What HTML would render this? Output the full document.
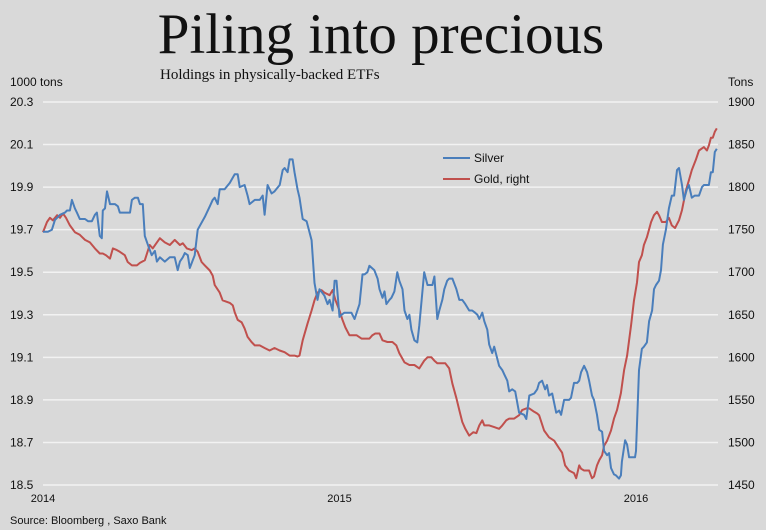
<!DOCTYPE html>
<html><head><meta charset="utf-8"><style>
html,body{margin:0;padding:0;background:#d9d9d9;}
svg{display:block;font-family:"Liberation Sans",sans-serif;}
</style></head><body>
<svg id="chart" width="766" height="530" viewBox="0 0 766 530" xmlns="http://www.w3.org/2000/svg">
<rect x="0" y="0" width="766" height="530" fill="#d9d9d9"/>
<text x="381" y="53" text-anchor="middle" font-family="Liberation Serif, serif" font-size="57" fill="#111">Piling into precious</text>
<text x="160" y="79" font-family="Liberation Serif, serif" font-size="15" fill="#111">Holdings in physically-backed ETFs</text>
<text x="10" y="86" font-size="12" fill="#111">1000 tons</text>
<text x="728" y="86" font-size="12" fill="#111">Tons</text>
<g id="grid"></g>
<g id="yl"></g>
<g id="yr"></g>
<g id="xa"></g>
<g id="series"></g>
<g>
<g><line x1="443" y1="158" x2="470" y2="158" stroke="#4a7ebb" stroke-width="2"/><text x="474" y="162" font-size="12" fill="#111">Silver</text></g>
<g><line x1="443" y1="179" x2="470" y2="179" stroke="#c0504d" stroke-width="2"/><text x="474" y="183" font-size="12" fill="#111">Gold, right</text></g>
</g>
<text x="10" y="524" font-size="11" fill="#111">Source: Bloomberg , Saxo Bank</text>
</svg>
<script>
const leftTicks=[20.3,20.1,19.9,19.7,19.5,19.3,19.1,18.9,18.7,18.5];
const rightTicks=[1900,1850,1800,1750,1700,1650,1600,1550,1500,1450];
const xTickLabels=["2014","2015","2016"];
const xTickMonths=[0,12,24];
const silverMonths=[0,0.2,0.36,0.48,0.69,0.89,0.97,1.09,1.17,1.29,1.37,1.49,1.70,1.82,1.98,2.10,2.18,2.30,2.38,2.42,2.51,2.59,2.71,2.91,3.03,3.11,3.31,3.52,3.60,3.72,3.84,3.92,4.04,4.12,4.24,4.40,4.53,4.61,4.73,4.93,5.13,5.33,5.45,5.54,5.66,5.74,5.86,5.94,6.14,6.26,6.55,6.75,6.87,6.95,7.07,7.15,7.35,7.56,7.76,7.88,7.96,8.16,8.28,8.36,8.57,8.77,8.89,8.97,9.09,9.25,9.37,9.58,9.70,9.78,9.90,9.98,10.10,10.18,10.30,10.38,10.51,10.67,10.87,10.99,11.11,11.19,11.39,11.52,11.60,11.72,11.80,11.88,12.00,12.08,12.20,12.32,12.48,12.61,12.81,12.93,13.01,13.13,13.21,13.41,13.54,13.62,13.74,13.82,13.90,14.02,14.10,14.22,14.34,14.42,14.55,14.63,14.75,14.83,14.91,15.03,15.15,15.23,15.43,15.56,15.64,15.76,15.84,15.96,16.04,16.16,16.24,16.36,16.44,16.57,16.73,16.85,16.97,17.09,17.25,17.37,17.49,17.58,17.66,17.78,17.86,17.98,18.06,18.18,18.26,18.46,18.59,18.67,18.79,18.87,18.99,19.11,19.27,19.47,19.56,19.68,19.88,20.00,20.08,20.20,20.32,20.40,20.48,20.61,20.77,20.89,20.97,21.09,21.29,21.37,21.49,21.62,21.70,21.78,21.90,22.02,22.10,22.22,22.30,22.42,22.51,22.63,22.71,22.83,22.91,22.99,23.11,23.19,23.31,23.39,23.43,23.56,23.64,23.72,23.84,23.96,24.00,24.12,24.24,24.32,24.44,24.53,24.65,24.73,24.81,24.93,25.01,25.09,25.21,25.33,25.45,25.54,25.66,25.74,25.86,25.94,26.06,26.14,26.26,26.38,26.55,26.67,26.75,26.95,27.03,27.11,27.19,27.27];
const silverValues=[19.69,19.69,19.70,19.745,19.77,19.78,19.79,19.79,19.84,19.80,19.78,19.75,19.75,19.74,19.74,19.77,19.78,19.67,19.66,19.79,19.80,19.88,19.82,19.82,19.81,19.78,19.78,19.78,19.84,19.85,19.85,19.82,19.82,19.67,19.63,19.58,19.60,19.55,19.57,19.55,19.57,19.57,19.51,19.55,19.57,19.59,19.58,19.52,19.58,19.70,19.76,19.81,19.84,19.85,19.82,19.89,19.89,19.92,19.96,19.96,19.90,19.91,19.86,19.82,19.84,19.84,19.86,19.77,19.91,19.87,19.88,19.91,19.98,19.99,19.97,20.03,20.03,19.97,19.89,19.85,19.75,19.74,19.65,19.45,19.37,19.42,19.39,19.35,19.37,19.32,19.46,19.46,19.29,19.30,19.31,19.31,19.31,19.28,19.35,19.49,19.49,19.50,19.53,19.51,19.47,19.42,19.38,19.41,19.35,19.37,19.38,19.41,19.50,19.46,19.42,19.32,19.28,19.30,19.23,19.18,19.17,19.25,19.50,19.44,19.44,19.44,19.48,19.28,19.32,19.37,19.42,19.46,19.47,19.47,19.42,19.37,19.37,19.35,19.32,19.32,19.31,19.30,19.28,19.31,19.27,19.23,19.16,19.12,19.15,19.06,19.04,19.02,18.99,18.94,18.95,18.94,18.84,18.83,18.81,18.92,18.93,18.95,18.98,18.99,18.95,18.97,18.92,18.93,18.84,18.85,18.83,18.90,18.90,18.91,18.98,18.98,18.99,19.03,19.06,19.03,18.99,18.92,18.90,18.83,18.76,18.75,18.66,18.64,18.65,18.58,18.55,18.545,18.53,18.545,18.61,18.71,18.69,18.63,18.63,18.63,18.66,19.04,19.14,19.15,19.17,19.27,19.32,19.42,19.44,19.46,19.51,19.63,19.70,19.80,19.86,19.86,19.98,19.99,19.91,19.84,19.89,19.91,19.85,19.86,19.86,19.90,19.91,19.91,19.97,19.97,20.065,20.08];
const goldMonths=[0,0.16,0.28,0.40,0.57,0.69,0.81,0.93,1.09,1.29,1.49,1.70,1.90,2.10,2.30,2.42,2.55,2.71,2.83,2.99,3.11,3.31,3.43,3.60,3.80,3.92,4.12,4.32,4.44,4.61,4.73,4.93,5.13,5.33,5.54,5.66,5.82,6.02,6.14,6.26,6.42,6.55,6.75,6.87,6.95,7.15,7.27,7.56,7.68,7.76,7.88,8.04,8.16,8.28,8.44,8.57,8.77,8.97,9.17,9.37,9.58,9.78,9.98,10.18,10.30,10.38,10.51,10.71,10.87,10.99,11.11,11.27,11.39,11.60,11.72,11.84,12.00,12.12,12.24,12.40,12.53,12.69,12.89,13.05,13.21,13.33,13.45,13.62,13.74,13.94,14.14,14.30,14.42,14.63,14.83,15.03,15.23,15.43,15.56,15.72,15.84,15.96,16.12,16.28,16.44,16.57,16.73,16.85,16.97,17.09,17.25,17.41,17.54,17.66,17.78,17.86,18.06,18.26,18.46,18.59,18.75,18.87,19.07,19.27,19.39,19.56,19.68,19.88,20.00,20.08,20.28,20.48,20.69,20.89,21.01,21.13,21.29,21.49,21.58,21.70,21.78,21.90,22.10,22.22,22.30,22.42,22.51,22.63,22.71,22.83,22.99,23.11,23.23,23.39,23.52,23.64,23.72,23.80,23.92,24.04,24.12,24.24,24.32,24.44,24.61,24.73,24.85,24.93,25.05,25.21,25.33,25.45,25.58,25.74,25.86,26.02,26.14,26.26,26.42,26.55,26.75,26.87,26.95,27.03,27.11,27.19,27.27];
const goldValues=[1747,1759,1764,1761,1767,1764,1769,1764,1755,1747,1744,1738,1735,1728,1722,1722,1720,1716,1728,1726,1724,1720,1712,1708,1708,1711,1714,1732,1728,1735,1740,1735,1732,1738,1732,1734,1728,1726,1728,1724,1712,1708,1702,1696,1685,1676,1667,1664,1661,1653,1644,1641,1634,1624,1618,1614,1614,1611,1608,1611,1608,1606,1602,1602,1601,1602,1620,1640,1655,1667,1676,1679,1676,1673,1679,1667,1655,1644,1635,1626,1626,1626,1622,1622,1622,1626,1628,1628,1620,1618,1618,1614,1605,1594,1591,1591,1587,1596,1600,1600,1596,1593,1593,1593,1587,1569,1552,1538,1524,1516,1508,1512,1511,1520,1526,1520,1520,1518,1516,1520,1526,1528,1528,1532,1538,1540,1540,1536,1534,1532,1514,1506,1502,1493,1488,1473,1467,1464,1458,1473,1469,1467,1467,1458,1460,1473,1479,1485,1496,1502,1514,1528,1538,1558,1585,1602,1620,1638,1667,1688,1712,1720,1732,1741,1759,1767,1771,1767,1759,1759,1764,1755,1752,1761,1773,1796,1808,1820,1832,1843,1847,1843,1849,1858,1858,1865,1869];

const NS="http://www.w3.org/2000/svg";
const X0=43,X1=718,Y0=102,Y1=485;
function xScale(m){return X0+m*(636-43)/24;}
function yLeft(v){return Y0+(20.3-v)*(Y1-Y0)/1.8;}
function yRight(v){return Y0+(1900-v)*(Y1-Y0)/450;}
function mk(tag,attrs,parent){const e=document.createElementNS(NS,tag);for(const k in attrs)e.setAttribute(k,attrs[k]);parent.appendChild(e);return e;}
const grid=document.getElementById('grid'),yl=document.getElementById('yl'),yr=document.getElementById('yr'),xa=document.getElementById('xa'),ser=document.getElementById('series');
leftTicks.forEach((t,i)=>{
  const y=yLeft(t);
  const g=mk('line',{x1:X0,x2:X1,y1:y,y2:y,stroke:'#f2f2f2','stroke-width':1.5},grid);
  
  
  const lt=mk('text',{x:10,y:y+4,'font-size':12,fill:'#111'},yl);lt.textContent=t.toFixed(1);
  
  
});
rightTicks.forEach(t=>{
  const y=yRight(t);
  const rt=mk('text',{x:728,y:y+4,'font-size':12,fill:'#111'},yr);rt.textContent=t;
  
  
});
xTickLabels.forEach((l,i)=>{
  const x=xScale(xTickMonths[i]);
  const xt=mk('text',{x:x,y:502,'font-size':11,fill:'#111','text-anchor':'middle'},xa);xt.textContent=l;
  
  
});
function path(ms,vs,ys){return ms.map((m,i)=>(i?'L':'M')+xScale(m).toFixed(1)+','+ys(vs[i]).toFixed(1)).join('');}
const gp=mk('path',{d:path(goldMonths,goldValues,yRight),fill:'none',stroke:'#c0504d','stroke-width':2,'stroke-linejoin':'round'},ser);


const sp=mk('path',{d:path(silverMonths,silverValues,yLeft),fill:'none',stroke:'#4a7ebb','stroke-width':2,'stroke-linejoin':'round'},ser);


</script>
</body></html>
